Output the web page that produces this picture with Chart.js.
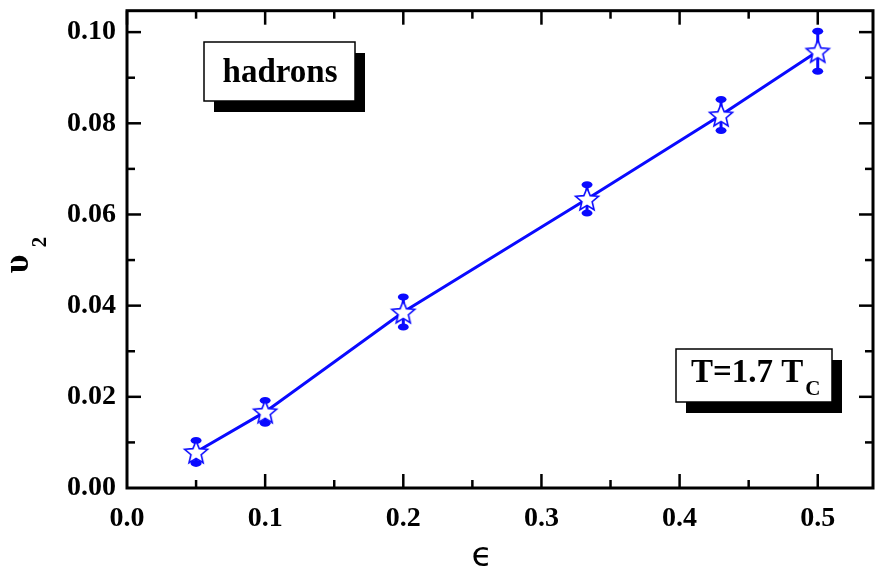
<!DOCTYPE html>
<html>
<head>
<meta charset="utf-8">
<script src="https://cdn.jsdelivr.net/npm/chart.js@4.4.1/dist/chart.umd.min.js"></script>
<style>
html,body{margin:0;padding:0;background:#fff;overflow:hidden;}
#wrap{width:878px;height:571px;position:relative;}
canvas{display:block;}
</style>
</head>
<body>
<div id="wrap"><canvas id="c" width="878" height="571"></canvas></div>
<script>
// ---- data ----
const epsilonValues = [0.05, 0.1, 0.2, 0.333, 0.43, 0.5];
const v2Values = [0.0079, 0.0167, 0.0386, 0.0634, 0.0818, 0.0958];
const v2Errors = [0.0025, 0.0025, 0.0033, 0.0031, 0.0034, 0.0044];
const xTicks = [0.0, 0.1, 0.2, 0.3, 0.4, 0.5];
const yTicks = [0.00, 0.02, 0.04, 0.06, 0.08, 0.10];
const boxLabels = ['hadrons', 'T=1.7 T', 'C'];

const BLUE = '#0a0aff';
const FONT = '"Liberation Serif", "Times New Roman", serif';

// star marker image
function makeStar(r){
  const pad = 2, s = Math.ceil(2*r + 2*pad);
  const c = document.createElement('canvas');
  c.width = s; c.height = s;
  const g = c.getContext('2d');
  const cx = s/2, cy = s/2 + 1, ri = r*0.45;
  g.beginPath();
  for (let i = 0; i < 10; i++){
    const rr = i % 2 === 0 ? r : ri;
    const a = -Math.PI/2 + i*Math.PI/5;
    const px = cx + rr*Math.cos(a), py = cy + rr*Math.sin(a);
    if (i === 0) g.moveTo(px, py); else g.lineTo(px, py);
  }
  g.closePath();
  g.fillStyle = '#fff';
  g.fill();
  g.lineWidth = 1.6;
  g.strokeStyle = BLUE;
  g.stroke();
  return c;
}
const starImg = makeStar(12);

const points = epsilonValues.map((x, i) => ({x: x, y: v2Values[i]}));

const errorBars = {
  id: 'errorBars',
  beforeDatasetsDraw(chart){
    const {ctx, scales:{x, y}} = chart;
    ctx.save();
    ctx.fillStyle = BLUE;
    ctx.strokeStyle = BLUE;
    ctx.lineWidth = 3;
    epsilonValues.forEach((ev, i) => {
      const px = x.getPixelForValue(ev);
      const top = y.getPixelForValue(v2Values[i] + v2Errors[i]);
      const bot = y.getPixelForValue(v2Values[i] - v2Errors[i]);
      ctx.beginPath();
      ctx.moveTo(px, top); ctx.lineTo(px, bot); ctx.stroke();
      [top, bot].forEach(py => {
        ctx.beginPath();
        ctx.ellipse(px, py, 5.5, 3.5, 0, 0, Math.PI*2);
        ctx.fill();
      });
    });
    ctx.restore();
  }
};

const frame = {
  id: 'frame',
  afterDraw(chart){
    const {ctx, chartArea:a, scales:{x, y}} = chart;
    ctx.save();
    ctx.strokeStyle = '#000';
    ctx.lineWidth = 3;
    ctx.strokeRect(a.left, a.top, a.right - a.left, a.bottom - a.top);
    ctx.lineWidth = 2.5;
    // x ticks (bottom and top), majors every 0.1, minors every 0.05
    for (let k = 0; k <= 10; k++){
      const v = k*0.05;
      const px = x.getPixelForValue(v);
      if (px > a.right - 2) continue;
      const L = k % 2 === 0 ? 14 : 8;
      if (k > 0){
        ctx.beginPath(); ctx.moveTo(px, a.bottom); ctx.lineTo(px, a.bottom - L); ctx.stroke();
      }
      ctx.beginPath(); ctx.moveTo(px, a.top); ctx.lineTo(px, a.top + L); ctx.stroke();
    }
    // y ticks (left and right), majors every 0.02, minors every 0.01
    for (let k = 1; k <= 10; k++){
      const v = k*0.01;
      const py = y.getPixelForValue(v);
      const L = k % 2 === 0 ? 14 : 8;
      ctx.beginPath(); ctx.moveTo(a.left, py); ctx.lineTo(a.left + L, py); ctx.stroke();
      ctx.beginPath(); ctx.moveTo(a.right, py); ctx.lineTo(a.right - L, py); ctx.stroke();
    }

    // annotation boxes with shadows
    function box(x0, y0, w, h){
      ctx.fillStyle = '#000';
      ctx.fillRect(x0 + 10, y0 + 11, w, h);
      ctx.fillStyle = '#fff';
      ctx.fillRect(x0, y0, w, h);
      ctx.lineWidth = 1.5;
      ctx.strokeStyle = '#000';
      ctx.strokeRect(x0, y0, w, h);
    }
    box(204, 42, 151, 59);
    ctx.fillStyle = '#000';
    ctx.font = 'bold 33px ' + FONT;
    ctx.textAlign = 'center';
    ctx.textBaseline = 'alphabetic';
    ctx.fillText(boxLabels[0], 280, 82);

    box(676, 349, 156, 53);
    ctx.fillStyle = '#000';
    ctx.textAlign = 'left';
    ctx.font = 'bold 33px ' + FONT;
    ctx.fillText(boxLabels[1], 691, 382);
    const w1 = ctx.measureText(boxLabels[1]).width;
    ctx.font = 'bold 21px ' + FONT;
    ctx.fillText(boxLabels[2], 691 + w1 + 2, 395);

    // axis titles
    ctx.save();
    ctx.translate(19, 264);
    ctx.rotate(-Math.PI/2);
    ctx.textAlign = 'center';
    ctx.textBaseline = 'middle';
    ctx.font = 'bold 36px ' + FONT;
    ctx.fillText('\u03C5', 0, 0);
    ctx.font = 'bold 21px ' + FONT;
    ctx.fillText('2', 22, 22);
    ctx.restore();

    ctx.textAlign = 'center';
    ctx.textBaseline = 'middle';
    ctx.font = '34px "DejaVu Sans", ' + FONT;
    ctx.fillText('\u03F5', 482, 557);
    ctx.restore();
  }
};

const chart = new Chart(document.getElementById('c'), {
  type: 'scatter',
  data: {
    datasets: [{
      data: points,
      showLine: true,
      borderColor: BLUE,
      borderWidth: 3,
      pointStyle: starImg,
      pointRadius: 12,
      pointHoverRadius: 12,
      backgroundColor: '#fff'
    }]
  },
  options: {
    responsive: false,
    animation: false,
    devicePixelRatio: 1,
    layout: {padding: {top: 10.7, right: 5, left: 0, bottom: 0}},
    plugins: {legend: {display: false}, tooltip: {enabled: false}},
    scales: {
      x: {
        type: 'linear',
        min: 0, max: 0.54,
        afterBuildTicks(s){ s.ticks = xTicks.map(v => ({value: v})); },
        afterFit(s){ s.height = 83; s.paddingLeft = 0; s.paddingRight = 0; },
        grid: {display: false, drawTicks: false},
        border: {display: false},
        ticks: {
          padding: 14,
          color: '#000',
          font: {family: FONT, size: 28, weight: 'bold'},
          callback: v => v.toFixed(1)
        }
      },
      y: {
        type: 'linear',
        min: 0, max: 0.1047,
        afterBuildTicks(s){ s.ticks = yTicks.map(v => ({value: v})); },
        afterFit(s){ s.width = 127; s.paddingTop = 0; s.paddingBottom = 0; },
        grid: {display: false, drawTicks: false},
        border: {display: false},
        ticks: {
          padding: 11,
          color: '#000',
          font: {family: FONT, size: 28, weight: 'bold'},
          callback: v => v.toFixed(2)
        }
      }
    }
  },
  plugins: [errorBars, frame]
});
// the star markers must not push the plot frame inward
chart.getDatasetMeta(0).controller.getMaxOverflow = () => 0;
chart.update();
</script>
</body>
</html>
